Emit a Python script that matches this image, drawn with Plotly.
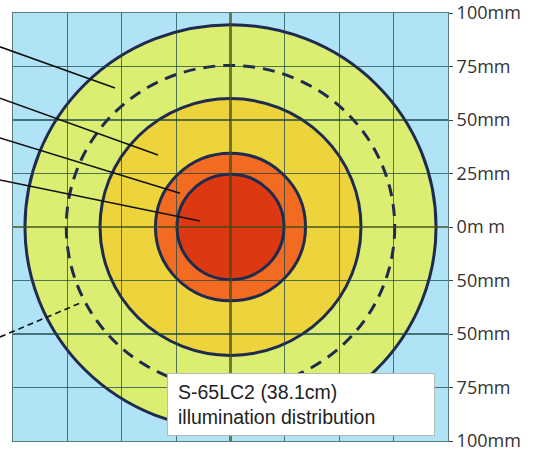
import plotly.graph_objects as go

# ---- data (mm) ----
RING_RADII = [94.5, 60.0, 34.5, 24.6]          # outer, middle, inner, core
RING_COLORS = ["#dcee72", "#edd33c", "#f26b21", "#dc3912"]
DASHED_RADIUS = 75.5
GRID_VALUES = [-100, -75, -50, -25, 0, 25, 50, 75, 100]
Y_TICK_VALUES = [100, 75, 50, 25, 0, -25, -50, -75, -100]
Y_TICK_LABELS = ["100mm", "75mm", "50mm", "25mm", "0m m", "50mm", "50mm", "75mm", "100mm"]
BOX_TEXT = ["S-65LC2 (38.1cm)", "illumination distribution"]

OUTLINE = "#1e2b4f"
GRID = "rgba(20,65,70,0.7)"

fig = go.Figure()

shapes = []
for r, c in zip(RING_RADII, RING_COLORS):
    shapes.append(dict(type="circle", xref="x", yref="y", x0=-r, x1=r, y0=-r, y1=r,
                       fillcolor=c, line=dict(color=OUTLINE, width=3), layer="below"))
shapes.insert(1, dict(type="circle", xref="x", yref="y",
                      x0=-DASHED_RADIUS, x1=DASHED_RADIUS, y0=-DASHED_RADIUS, y1=DASHED_RADIUS,
                      fillcolor="rgba(0,0,0,0)", line=dict(color=OUTLINE, width=3, dash="12px,8px"),
                      layer="below"))

# leader lines (paper coordinates)
leaders = [
    ((-0.030, 0.921), (0.2345, 0.825), "solid"),
    ((-0.030, 0.801), (0.3333, 0.668), "solid"),
    ((-0.030, 0.708), (0.3839, 0.579), "solid"),
    ((-0.030, 0.610), (0.4299, 0.514), "solid"),
    ((-0.030, 0.243), (0.1609, 0.325), "6px,4px"),
]
for (x0, y0), (x1, y1), d in leaders:
    shapes.append(dict(type="line", xref="paper", yref="paper", x0=x0, y0=y0, x1=x1, y1=y1,
                       line=dict(color="#111111", width=1.6, dash=d), layer="above"))

fig.update_layout(
    width=538, height=449,
    margin=dict(l=13, r=90, t=13, b=8),
    paper_bgcolor="white",
    plot_bgcolor="#b1e3f6",
    shapes=shapes,
    showlegend=False,
    xaxis=dict(range=[-100, 100], tickvals=GRID_VALUES, showticklabels=False,
               showgrid=True, gridcolor=GRID, gridwidth=1.2, automargin=False,
               zeroline=True, zerolinecolor="rgba(60,75,20,0.7)", zerolinewidth=2.2,
               showline=True, linecolor=GRID, mirror=True, fixedrange=True),
    yaxis=dict(range=[-100, 100], side="right", tickvals=Y_TICK_VALUES, ticktext=Y_TICK_LABELS,
               showgrid=True, gridcolor=GRID, gridwidth=1.2, automargin=False,
               ticklabeloverflow="allow",
               zeroline=True, zerolinecolor="rgba(60,75,20,0.7)", zerolinewidth=2.2,
               showline=True, linecolor=GRID, mirror=True,
               ticks="outside", ticklen=4, tickcolor="#2a4a5a",
               tickfont=dict(family="Open Sans", size=18, color="#333333"), fixedrange=True),
    annotations=[dict(
        xref="paper", yref="paper", x=0.354, y=0.159, xanchor="left", yanchor="top",
        text="<br>".join(BOX_TEXT), showarrow=False, align="left",
        width=246, height=41, borderpad=10,
        bgcolor="white", bordercolor="#b8b8b8", borderwidth=1,
        font=dict(family="Liberation Sans", size=19.5, color="#222222"))],
)

fig.write_html("out.html", config={"displayModeBar": False, "staticPlot": True},
               post_script="document.body.style.margin='0';document.body.style.padding='0';"
                           "document.body.style.overflow='hidden';")
